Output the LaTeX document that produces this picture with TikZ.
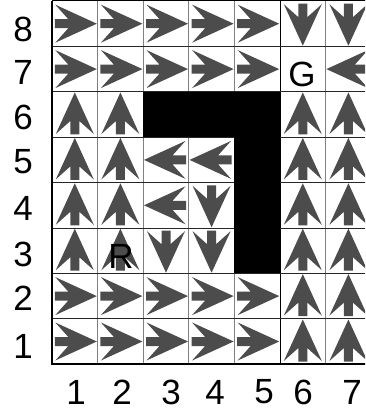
\documentclass[tikz,border=0pt]{standalone}
\usepackage{fontspec}
\setmainfont{Liberation Sans}
\newcommand\garrow[3]{%
  \fill[arrowfill, shift={({52+45.6*(#1-0.5)},{1+45.4*(8.5-#2)})}, rotate=#3]
    (22,0) -- (-19.5,19) -- (-6.5,4.5) -- (-20,4.5) -- (-20,-4.5) -- (-6.5,-4.5) -- (-19.5,-19) -- cycle;}
\begin{document}
\begin{tikzpicture}[x=1pt,y=-1pt,
  arrowfill/.style={fill=black!70},
  lbl/.style={font=\fontsize{35}{42}\selectfont, inner sep=0pt, anchor=center},
  hline/.style={draw=black!85, line width=0.9pt},
  vline/.style={draw=black!50, line width=0.9pt}]
\useasboundingbox (0,0) rectangle (365,411);
\fill[white] (0,0) rectangle (365,411);
\begin{scope}
\clip (0,0) rectangle (365,411);
% vertical grid lines
\foreach \i in {1,...,7} {
  \draw[vline] ({52+45.6*\i},1) -- ({52+45.6*\i},364.2);
}
\draw[draw=black, line width=0.9pt] (280,1) -- (280,364.2);
% horizontal grid lines
\foreach \j in {1,...,7} {
  \draw[hline] (52,{1+45.4*\j}) -- (372,{1+45.4*\j});
}
% obstacles
\fill[black] (143.2,91.8) rectangle (280.4,137.2);
\fill[black] (234.4,137.2) rectangle (280.4,273.4);
\draw[black, line width=1pt] (52,1) -- (372,1);
\draw[black, line width=1.8pt] (52,1) -- (52,364.2) -- (372,364.2);
% arrows: row 8
\foreach \c in {1,...,5} {\garrow{\c}{8}{0}}
\garrow{6}{8}{270}\garrow{7}{8}{270}
% row 7
\foreach \c in {1,...,5} {\garrow{\c}{7}{0}}
\garrow{7}{7}{180}
% row 6
\garrow{1}{6}{90}\garrow{2}{6}{90}\garrow{6}{6}{90}\garrow{7}{6}{90}
% row 5
\garrow{1}{5}{90}\garrow{2}{5}{90}\garrow{3}{5}{180}\garrow{4}{5}{180}\garrow{6}{5}{90}\garrow{7}{5}{90}
% row 4
\garrow{1}{4}{90}\garrow{2}{4}{90}\garrow{3}{4}{180}\garrow{4}{4}{270}\garrow{6}{4}{90}\garrow{7}{4}{90}
% row 3
\garrow{1}{3}{90}\garrow{2}{3}{90}\garrow{3}{3}{270}\garrow{4}{3}{270}\garrow{6}{3}{90}\garrow{7}{3}{90}
% rows 2 and 1
\foreach \r in {1,2} {
  \foreach \c in {1,...,5} {\garrow{\c}{\r}{0}}
  \garrow{6}{\r}{90}\garrow{7}{\r}{90}
}
\end{scope}
% cell labels
\node[lbl] (goal) at (302,74) {G};
\node[lbl] (robot) at (121,256) {R};
% row labels
\node[lbl] (r8) at (23,29) {8};
\node[lbl] (r7) at (23,72) {7};
\node[lbl] (r6) at (23,117) {6};
\node[lbl] (r5) at (23,162) {5};
\node[lbl] (r4) at (23,208) {4};
\node[lbl] (r3) at (23,254) {3};
\node[lbl] (r2) at (23,298) {2};
\node[lbl] (r1) at (23,346) {1};
% column labels
\node[lbl] (c1) at (76,392) {1};
\node[lbl] (c2) at (122,392) {2};
\node[lbl] (c3) at (171,392) {3};
\node[lbl] (c4) at (215,392) {4};
\node[lbl] (c5) at (264,392) {5};
\node[lbl] (c6) at (303,392) {6};
\node[lbl] (c7) at (352,392) {7};
\end{tikzpicture}
\end{document}
